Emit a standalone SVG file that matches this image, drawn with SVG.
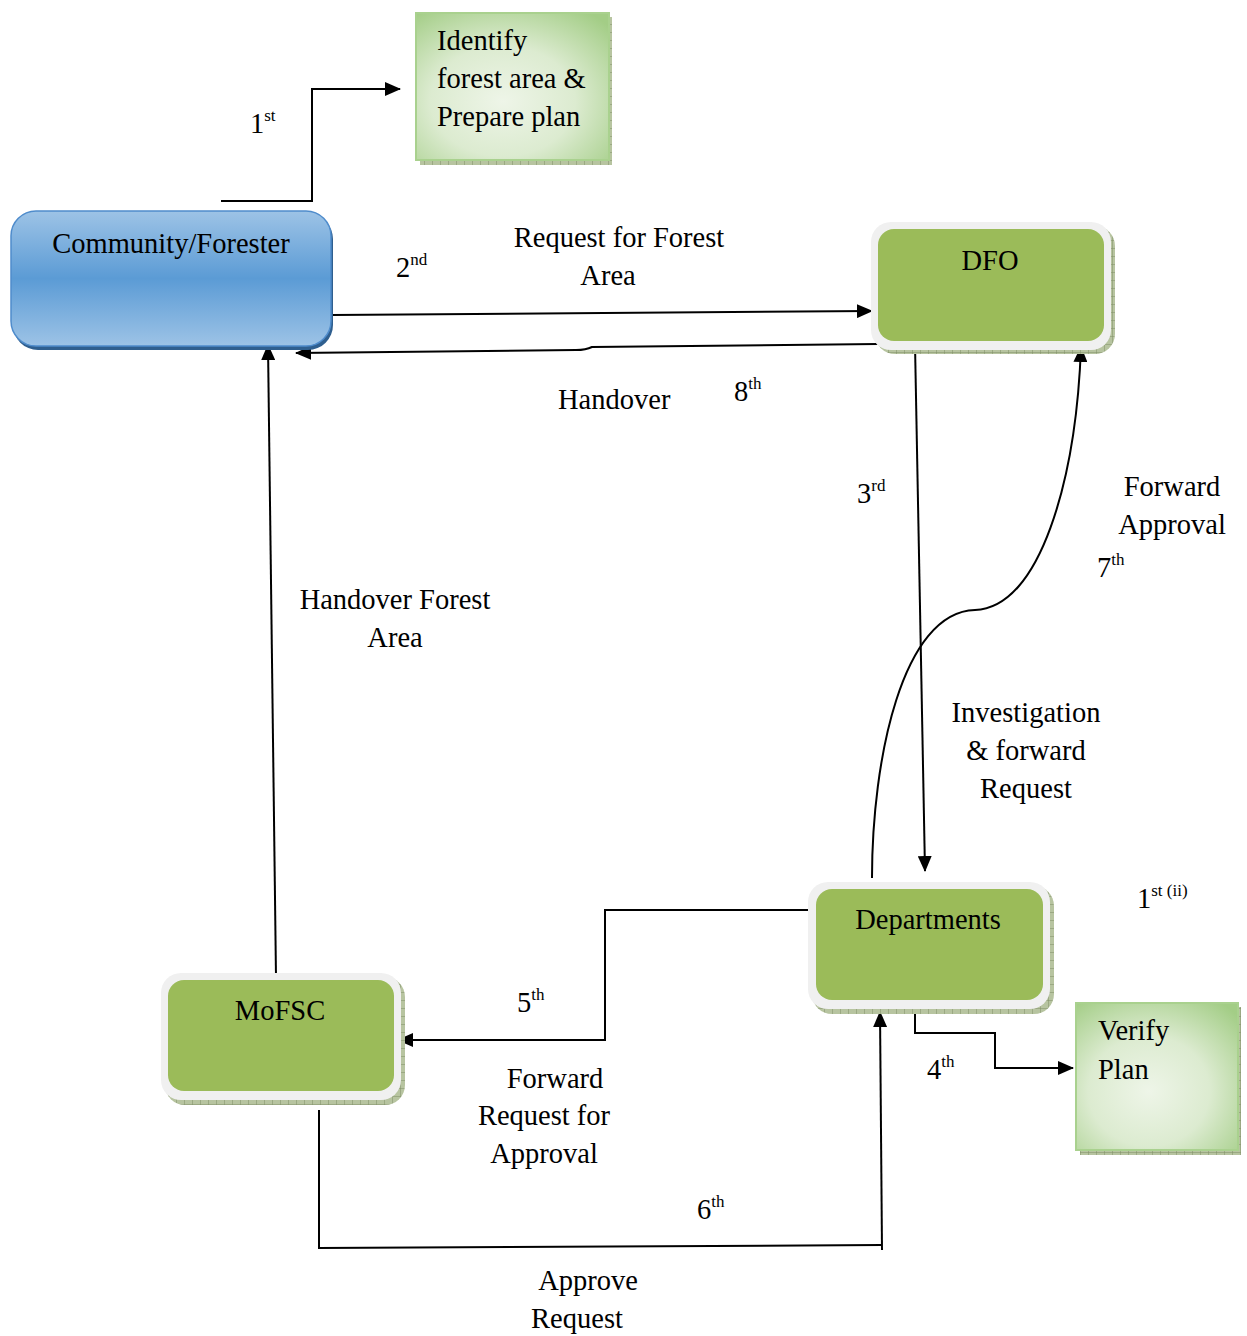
<svg xmlns="http://www.w3.org/2000/svg" width="1247" height="1336" viewBox="0 0 1247 1336">
<defs>
<style>
text{font-family:"Liberation Serif","Times New Roman",serif;font-size:28.5px;fill:#000}
.c{text-anchor:middle}
.sup{font-size:17px}
.ln{fill:none;stroke:#000;stroke-width:2}
.inner{fill:#9bbb59}
.outer{fill:#f0f0f0}
</style>
<linearGradient id="blue" x1="0" y1="0" x2="0" y2="1">
<stop offset="0" stop-color="#9dc3e6"/>
<stop offset="0.5" stop-color="#5b9bd5"/>
<stop offset="1" stop-color="#9dc3e6"/>
</linearGradient>
<radialGradient id="lg" cx="0.45" cy="0.6" r="0.75">
<stop offset="0" stop-color="#eef5e8"/>
<stop offset="0.5" stop-color="#dcebd0"/>
<stop offset="1" stop-color="#a3cd86"/>
</radialGradient>
<pattern id="hatch" width="8" height="8" patternUnits="userSpaceOnUse">
<rect width="8" height="8" fill="#b7c4a0"/>
<path d="M0,0V8M0,0H8" stroke="#7f8f66" stroke-width="1"/>
</pattern>
<marker id="ah2" markerWidth="16" markerHeight="14" refX="15" refY="7" orient="auto" markerUnits="userSpaceOnUse" viewBox="0 0 16 14">
<path d="M0,0L16,7L0,14Z" fill="#000"/>
</marker>
</defs>

<g id="connectors">
<polyline class="ln" points="221,201 312,201 312,89 400,89" marker-end="url(#ah2)"/>
<line class="ln" x1="332" y1="315" x2="872" y2="311" marker-end="url(#ah2)"/>
<path class="ln" d="M878,344 L592,347 Q586,350 576,350 L296,353" marker-end="url(#ah2)"/>
<line class="ln" x1="915" y1="344" x2="925" y2="871" marker-end="url(#ah2)"/>
<path class="ln" d="M872,878 C872,760 902,612 975,610 C1040,608 1076,480 1081,347" marker-end="url(#ah2)"/>
<polyline class="ln" points="810,910 605,910 605,1040 398,1040" marker-end="url(#ah2)"/>
<polyline class="ln" points="915,1012 915,1033 995,1033 995,1068 1073,1068" marker-end="url(#ah2)"/>
<polyline class="ln" points="319,1110 319,1248 882,1245"/>
<line class="ln" x1="882" y1="1250" x2="880" y2="1012" marker-end="url(#ah2)"/>
<line class="ln" x1="276" y1="977" x2="268" y2="345" marker-end="url(#ah2)"/>
</g>

<g id="identify">
<rect x="420" y="17" width="192" height="148" fill="url(#hatch)"/>
<rect x="416" y="13" width="193" height="147" fill="url(#lg)" stroke="#a9d18e" stroke-width="2"/>
<text x="437" y="50">Identify</text>
<text x="437" y="88">forest area &amp;</text>
<text x="437" y="126">Prepare plan</text>
</g>

<g id="community">
<rect x="13" y="214" width="320" height="136" rx="25" fill="#2f5f8f"/>
<rect x="11" y="211" width="320" height="135" rx="25" fill="url(#blue)" stroke="#4f8ccc" stroke-width="1.5"/>
<text class="c" x="171" y="253">Community/Forester</text>
</g>

<g id="dfo">
<rect x="875" y="226" width="240" height="128" rx="20" fill="url(#hatch)"/>
<rect x="871" y="222" width="240" height="128" rx="20" class="outer"/>
<rect x="878" y="229" width="226" height="112" rx="16" class="inner"/>
<text class="c" x="990" y="270">DFO</text>
</g>

<g id="departments">
<rect x="812" y="886" width="242" height="128" rx="20" fill="url(#hatch)"/>
<rect x="808" y="882" width="242" height="127" rx="20" class="outer"/>
<rect x="816" y="889" width="227" height="111" rx="16" class="inner"/>
<text class="c" x="928" y="929">Departments</text>
</g>

<g id="mofsc">
<rect x="165" y="977" width="240" height="128" rx="20" fill="url(#hatch)"/>
<rect x="161" y="973" width="240" height="127" rx="20" class="outer"/>
<rect x="168" y="980" width="226" height="111" rx="16" class="inner"/>
<text class="c" x="280" y="1020">MoFSC</text>
</g>

<g id="verify">
<rect x="1080" y="1007" width="161" height="148" fill="url(#hatch)"/>
<rect x="1076" y="1003" width="162" height="147" fill="url(#lg)" stroke="#a9d18e" stroke-width="2"/>
<text x="1098" y="1040">Verify</text>
<text x="1098" y="1079">Plan</text>
</g>

<g id="labels">
<text x="250" y="133">1<tspan class="sup" dy="-12">st</tspan></text>
<text x="396" y="277">2<tspan class="sup" dy="-12">nd</tspan></text>
<text class="c" x="619" y="247">Request for Forest</text>
<text class="c" x="608" y="285">Area</text>
<text x="558" y="409">Handover</text>
<text x="734" y="401">8<tspan class="sup" dy="-12">th</tspan></text>
<text x="857" y="503">3<tspan class="sup" dy="-12">rd</tspan></text>
<text class="c" x="1172" y="496">Forward</text>
<text class="c" x="1172" y="534">Approval</text>
<text x="1097" y="577">7<tspan class="sup" dy="-12">th</tspan></text>
<text class="c" x="395" y="609">Handover Forest</text>
<text class="c" x="395" y="647">Area</text>
<text class="c" x="1026" y="722">Investigation</text>
<text class="c" x="1026" y="760">&amp; forward</text>
<text class="c" x="1026" y="798">Request</text>
<text x="1137" y="908">1<tspan class="sup" dy="-12">st (ii)</tspan></text>
<text x="517" y="1012">5<tspan class="sup" dy="-12">th</tspan></text>
<text class="c" x="555" y="1088">Forward</text>
<text class="c" x="544" y="1125">Request for</text>
<text class="c" x="544" y="1163">Approval</text>
<text x="927" y="1079">4<tspan class="sup" dy="-12">th</tspan></text>
<text x="697" y="1219">6<tspan class="sup" dy="-12">th</tspan></text>
<text class="c" x="588" y="1290">Approve</text>
<text class="c" x="577" y="1328">Request</text>
</g>
</svg>
